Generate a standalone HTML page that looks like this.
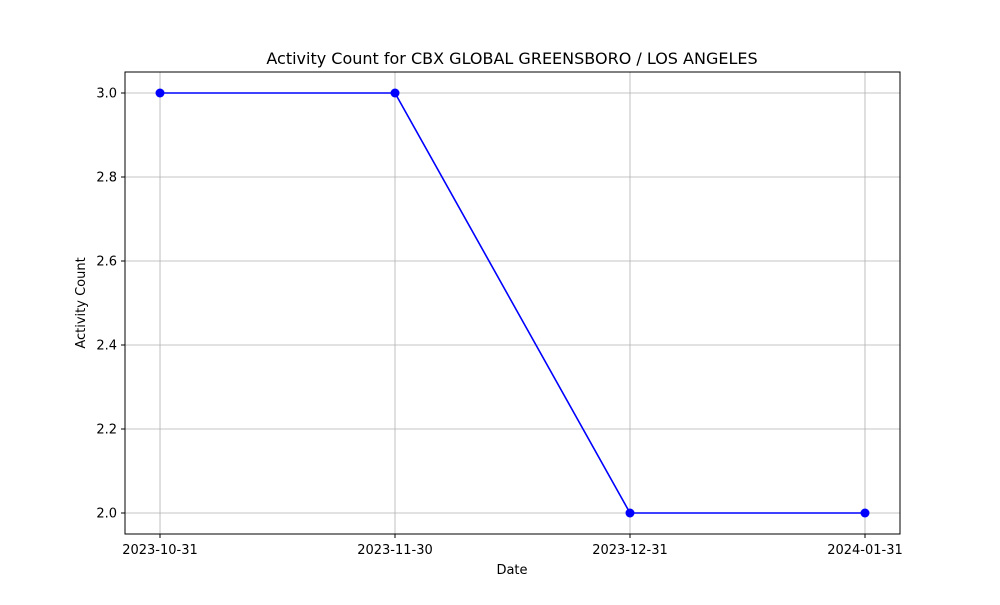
<!DOCTYPE html>
<html><head><meta charset="utf-8"><style>
body{margin:0;background:#fff;font-family:"Liberation Sans","DejaVu Sans",sans-serif;}
svg text{font-family:"DejaVu Sans","Liberation Sans",sans-serif;}
</style></head><body>
<svg id="chart" width="1000" height="600" xmlns="http://www.w3.org/2000/svg">
<rect width="1000" height="600" fill="#fff"/>
<g id="grid"></g>
<g id="ticks"></g>
<g id="series"></g>
<rect x="125" y="72" width="775" height="462" fill="none" stroke="#000" stroke-width="1"/>
<text x="512" y="64" font-size="16" text-anchor="middle">Activity Count for CBX GLOBAL GREENSBORO / LOS ANGELES</text>
<text x="512" y="574" font-size="13" text-anchor="middle">Date</text>
<text transform="translate(85,303) rotate(-90)" font-size="13" text-anchor="middle">Activity Count</text>
</svg>
<script>
const categories = ["2023-10-31","2023-11-30","2023-12-31","2024-01-31"];
const values = [3, 3, 2, 2];
const yTicks = [2.0, 2.2, 2.4, 2.6, 2.8, 3.0];
const L=125,R=900,T=72,B=534;
const xMin=-0.149,xMax=3.149,yMin=1.95,yMax=3.05;
const ns="http://www.w3.org/2000/svg";
function xs(i){return L+(i-xMin)/(xMax-xMin)*(R-L);}
function ys(v){return B-(v-yMin)/(yMax-yMin)*(B-T);}
function mk(tag,attrs,parent){const e=document.createElementNS(ns,tag);for(const k in attrs)e.setAttribute(k,attrs[k]);parent.appendChild(e);return e;}
const grid=document.getElementById('grid'),ticks=document.getElementById('ticks'),series=document.getElementById('series');
categories.forEach((c,i)=>{
  const x=xs(i);
  const g=mk('line',{x1:x,x2:x,y1:T,y2:B,stroke:'#b0b0b0','stroke-width':0.8},grid);
  
  
  const t=mk('line',{x1:x,x2:x,y1:B,y2:B+4,stroke:'#000'},ticks);
  
  
  const l=mk('text',{x:x,y:B+20,'font-size':13,'text-anchor':'middle'},ticks);
  l.textContent=c;
  
  
});
yTicks.forEach(v=>{
  const y=ys(v);
  const g=mk('line',{x1:L,x2:R,y1:y,y2:y,stroke:'#b0b0b0','stroke-width':0.8},grid);
  
  
  const t=mk('line',{x1:L-4,x2:L,y1:y,y2:y,stroke:'#000'},ticks);
  
  
  const l=mk('text',{x:L-8,y:y+4.5,'font-size':13,'text-anchor':'end'},ticks);
  l.textContent=v.toFixed(1);
  
  
});
const pl=mk('polyline',{points:values.map((v,i)=>xs(i)+','+ys(v)).join(' '),fill:'none',stroke:'#0000ff','stroke-width':1.6},series);


values.forEach((v,i)=>{
  const c=mk('circle',{cx:xs(i),cy:ys(v),r:4.5,fill:'#0000ff'},series);
  
  
});
</script>
</body></html>
